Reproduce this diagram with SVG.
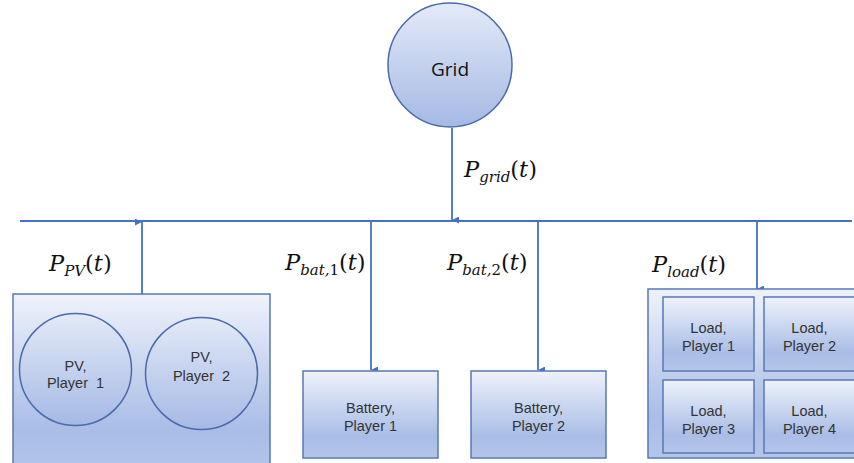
<svg xmlns="http://www.w3.org/2000/svg" width="854" height="463" viewBox="0 0 854 463">
<defs>
<linearGradient id="gBox" x1="0" y1="0" x2="0" y2="1">
<stop offset="0" stop-color="#eef2fb"/>
<stop offset="0.75" stop-color="#a9bde6"/>
<stop offset="1" stop-color="#b4c5e9"/>
</linearGradient>
<linearGradient id="gCirc" x1="0" y1="0" x2="0" y2="1">
<stop offset="0" stop-color="#e3eaf8"/>
<stop offset="1" stop-color="#a5b9e4"/>
</linearGradient>
<marker id="arr" markerWidth="7" markerHeight="7" refX="3.5" refY="7" orient="auto-start-reverse" markerUnits="userSpaceOnUse" viewBox="0 0 7 7">
<path d="M0,0 L7,0 L3.5,7 Z" fill="#4472c4"/>
</marker>
</defs>
<style>
.box{fill:url(#gBox);stroke:#5a78b5;stroke-width:1.5}
.circ{fill:url(#gCirc);stroke:#4a6aab;stroke-width:1.5}
.ln{stroke:#4472c4;stroke-width:1.8;fill:none}
.lbl{font-family:"Liberation Sans",Arial,sans-serif;font-size:14.5px;fill:#333;text-anchor:middle;white-space:pre}
.math{font-family:"DejaVu Serif","Liberation Serif",serif;font-style:italic;font-size:22.5px;fill:#111}
.sub{font-size:15px}
.up{font-style:normal}
</style>
<g id="connectors">
<line class="ln" x1="20" y1="221" x2="852" y2="221"/>
<line class="ln" x1="452" y1="128" x2="452" y2="220" marker-end="url(#arr)"/>
<line class="ln" x1="142" y1="294" x2="142" y2="222" marker-end="url(#arr)"/>
<line class="ln" x1="371" y1="221" x2="371" y2="370" marker-end="url(#arr)"/>
<line class="ln" x1="538" y1="221" x2="538" y2="370" marker-end="url(#arr)"/>
<line class="ln" x1="757" y1="221" x2="757" y2="289" marker-end="url(#arr)"/>
</g>
<g id="grid">
<circle class="circ" cx="450" cy="65" r="62"/>
<text x="450" y="76" font-family="'Open Sans','Noto Sans',sans-serif" font-size="19" fill="#111" text-anchor="middle">Grid</text>
</g>
<g id="label-grid"><text class="math" x="464" y="177">P<tspan class="sub" dy="5">grid</tspan><tspan class="up" dy="-5">(</tspan>t<tspan class="up">)</tspan></text></g>
<g id="label-pv"><text class="math" x="49" y="271">P<tspan class="sub" dy="5">PV</tspan><tspan class="up" dy="-5">(</tspan>t<tspan class="up">)</tspan></text></g>
<g id="label-bat1"><text class="math" x="285" y="270">P<tspan class="sub" dy="5">bat,<tspan class="up">1</tspan></tspan><tspan class="up" dy="-5">(</tspan>t<tspan class="up">)</tspan></text></g>
<g id="label-bat2"><text class="math" x="447" y="270">P<tspan class="sub" dy="5">bat,<tspan class="up">2</tspan></tspan><tspan class="up" dy="-5">(</tspan>t<tspan class="up">)</tspan></text></g>
<g id="label-load"><text class="math" x="652" y="272">P<tspan class="sub" dy="5">load</tspan><tspan class="up" dy="-5">(</tspan>t<tspan class="up">)</tspan></text></g>
<g id="pv-group">
<rect class="box" x="13" y="294" width="257" height="180"/>
</g>
<g id="pv1">
<circle class="circ" cx="75.5" cy="369.5" r="56"/>
<text class="lbl" x="75.5" y="371">PV,</text>
<text class="lbl" x="75.5" y="388">Player  1</text>
</g>
<g id="pv2">
<circle class="circ" cx="201.5" cy="373.5" r="56"/>
<text class="lbl" x="201.5" y="362">PV,</text>
<text class="lbl" x="201.5" y="381">Player  2</text>
</g>
<g id="bat1">
<rect class="box" x="303" y="371" width="135" height="87"/>
<text class="lbl" x="370.5" y="413">Battery,</text>
<text class="lbl" x="370.5" y="431">Player 1</text>
</g>
<g id="bat2">
<rect class="box" x="471" y="371" width="135" height="87"/>
<text class="lbl" x="538.5" y="413">Battery,</text>
<text class="lbl" x="538.5" y="431">Player 2</text>
</g>
<g id="load-group">
<rect class="box" x="648" y="289" width="214" height="169"/>
</g>
<g id="load1">
<rect class="box" x="663" y="297" width="91" height="74"/>
<text class="lbl" x="708.5" y="333">Load,</text>
<text class="lbl" x="708.5" y="351">Player 1</text>
</g>
<g id="load2">
<rect class="box" x="764" y="297" width="91" height="74"/>
<text class="lbl" x="809.5" y="333">Load,</text>
<text class="lbl" x="809.5" y="351">Player 2</text>
</g>
<g id="load3">
<rect class="box" x="663" y="380" width="91" height="73"/>
<text class="lbl" x="708.5" y="416">Load,</text>
<text class="lbl" x="708.5" y="434">Player 3</text>
</g>
<g id="load4">
<rect class="box" x="764" y="380" width="91" height="73"/>
<text class="lbl" x="809.5" y="416">Load,</text>
<text class="lbl" x="809.5" y="434">Player 4</text>
</g>
</svg>
